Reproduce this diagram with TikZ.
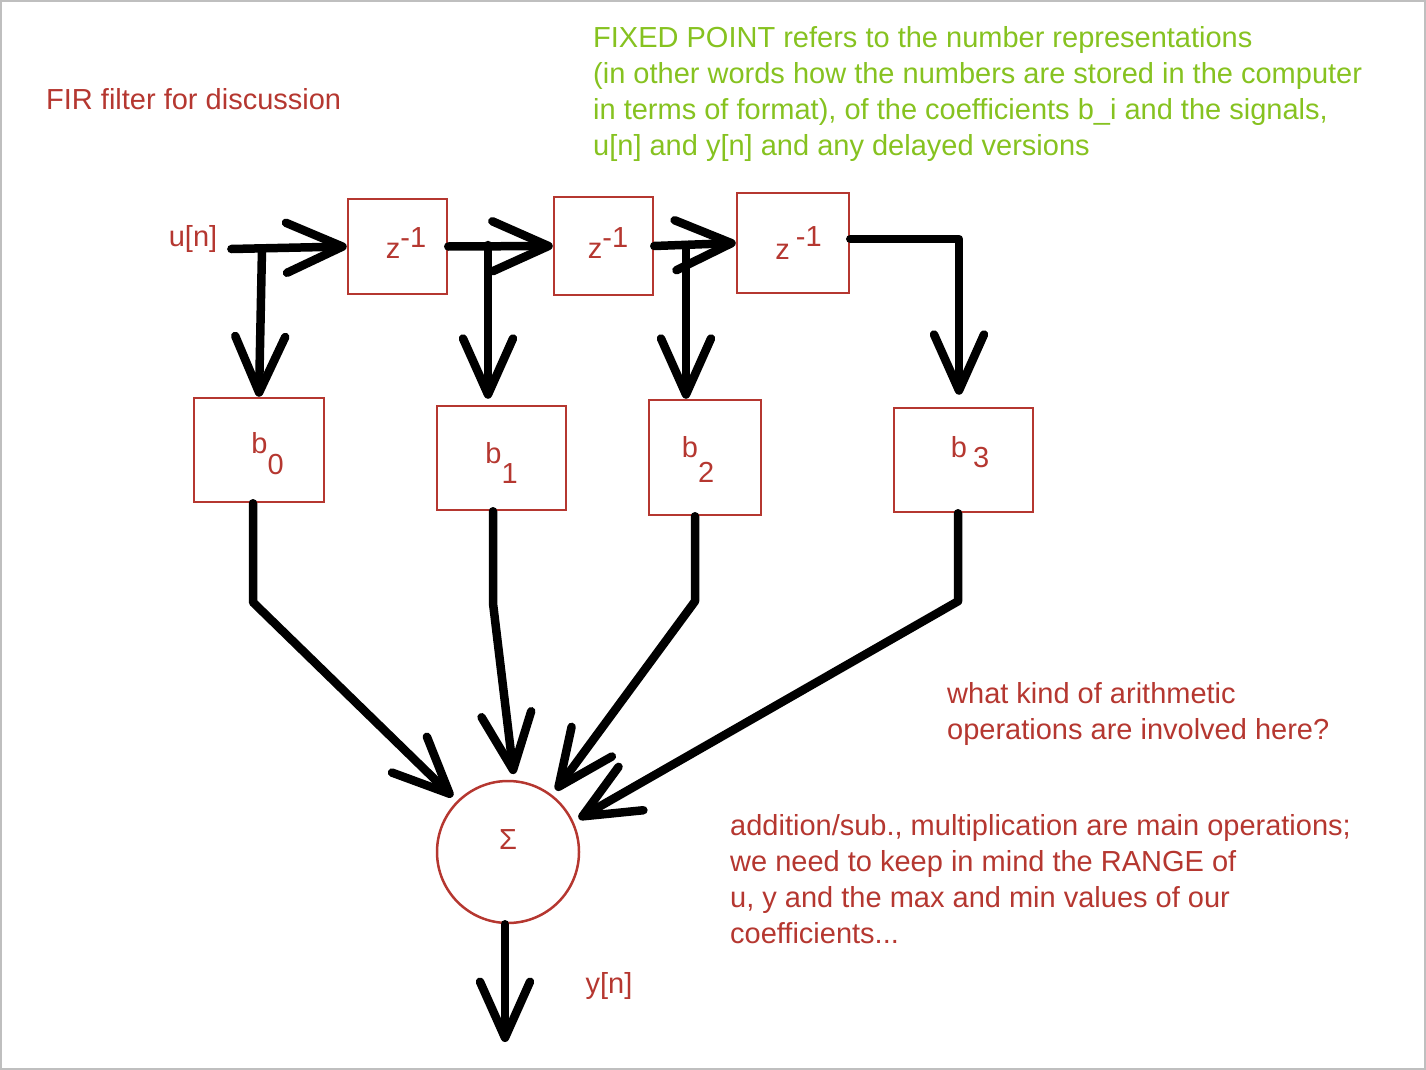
\documentclass[tikz,border=0pt]{standalone}
\usepackage{fontspec}
\setmainfont{Liberation Sans}
\usetikzlibrary{arrows.meta}
\definecolor{firred}{RGB}{181,55,48}
\definecolor{fixgreen}{RGB}{134,194,32}
\begin{document}
\begin{tikzpicture}[x=1pt,y=-1pt,
	font=\fontsize{29pt}{36pt}\selectfont,
	blk/.style={draw=firred,line width=2.5pt,text=firred,inner sep=0pt},
	lbl/.style={text=firred,inner sep=0pt},
	sig/.style={line width=8.5pt,line cap=round,line join=round,
		-{Straight Barb[length=56pt,width=50pt,round]}}]
\useasboundingbox (0,0) rectangle (1426,1070);
\draw[black!25,line width=2pt] (1,1) rectangle (1425,1069);
% texts
\node[lbl,anchor=west] (title) at (46,99) {FIR filter for discussion};
\node[text=fixgreen,inner sep=0pt,anchor=north west,align=left] (fixnote) at (593,26)
	{FIXED POINT refers to the number representations\\
	(in other words how the numbers are stored in the computer\\
	in terms of format), of the coefficients b\_i and the signals,\\
	u[n] and y[n] and any delayed versions};
\node[lbl,anchor=north west,align=left] (askop) at (947,682)
	{what kind of arithmetic\\operations are involved here?};
\node[lbl,anchor=north west,align=left] (answer) at (730,814)
	{addition/sub., multiplication are main operations;\\
	we need to keep in mind the RANGE of\\
	u, y and the max and min values of our\\
	coefficients...};
\node[lbl] (un) at (193,239) {u[n]};
\node[lbl] (yn) at (609,986) {y[n]};
% delay blocks
\node[blk,minimum width=99pt,minimum height=95pt] (z1) at (397.5,246.5)
	{\hspace{17pt}\raisebox{-12pt}[0pt][0pt]{z\raisebox{11pt}{-1}}};
\node[blk,minimum width=99pt,minimum height=98pt] (z2) at (603.5,246)
	{\hspace{9pt}\raisebox{-12pt}[0pt][0pt]{z\raisebox{11pt}{-1}}};
\node[blk,minimum width=112pt,minimum height=100pt] (z3) at (793,243)
	{\hspace{11pt}\raisebox{-16pt}[0pt][0pt]{z\hspace{6pt}\raisebox{13pt}{-1}}};
% coefficient blocks
\foreach \i/\cx/\cy/\w/\h/\dx/\ry/\dy in {0/259/450/130/104/17/-3.5/21,
	1/501.5/458/129/104/0/-5.5/20, 2/705/457.5/112/115/-14/0/25,
	3/963.5/460/139/104/13/2.5/10}{
	\node[blk,minimum width=\w pt,minimum height=\h pt] (b\i) at (\cx,\cy)
		{\hspace{\dx pt}\raisebox{\ry pt}[0pt][0pt]{b\ifnum\i=3\hspace{6pt}\fi\raisebox{-\dy pt}{\i}}};}
% adder
\node[blk,circle,minimum size=142pt] (sum) at (508,852) {\raisebox{3pt}[0pt][0pt]{Σ}};
% delay line
\coordinate (t0) at (262,249);
\coordinate (t1) at (488,245);
\coordinate (t2) at (686,245);
\coordinate (yout) at (505,1042);
\draw[sig] ([shift={(14,10)}]un.east) -- (z1.west);
\draw[sig] (z1.east) -- (z2.west);
\draw[sig] (z2.east) -- (z3.west);
\draw[sig] ([yshift=4]z3.east) -| ([xshift=-4.5,yshift=12]b3.north);
% taps
\draw[sig] (t0) -- (b0.north);
\draw[sig] (t1) -- ([yshift=6]t1 |- b1.north);
\draw[sig] (t2) -- (t2 |- b2.north);
\foreach \i/\dx/\len/\a in {0/-6/99/135, 1/-8.5/92/85, 2/-10/85/52, 3/-5.5/88/25}{
	\draw[sig,shorten >=6pt] ([xshift=\dx]b\i.south) -- ++(0,\len) -- (sum.\a);}
\draw[sig] (yout |- sum.south) -- (yout);
\end{tikzpicture}
\end{document}
